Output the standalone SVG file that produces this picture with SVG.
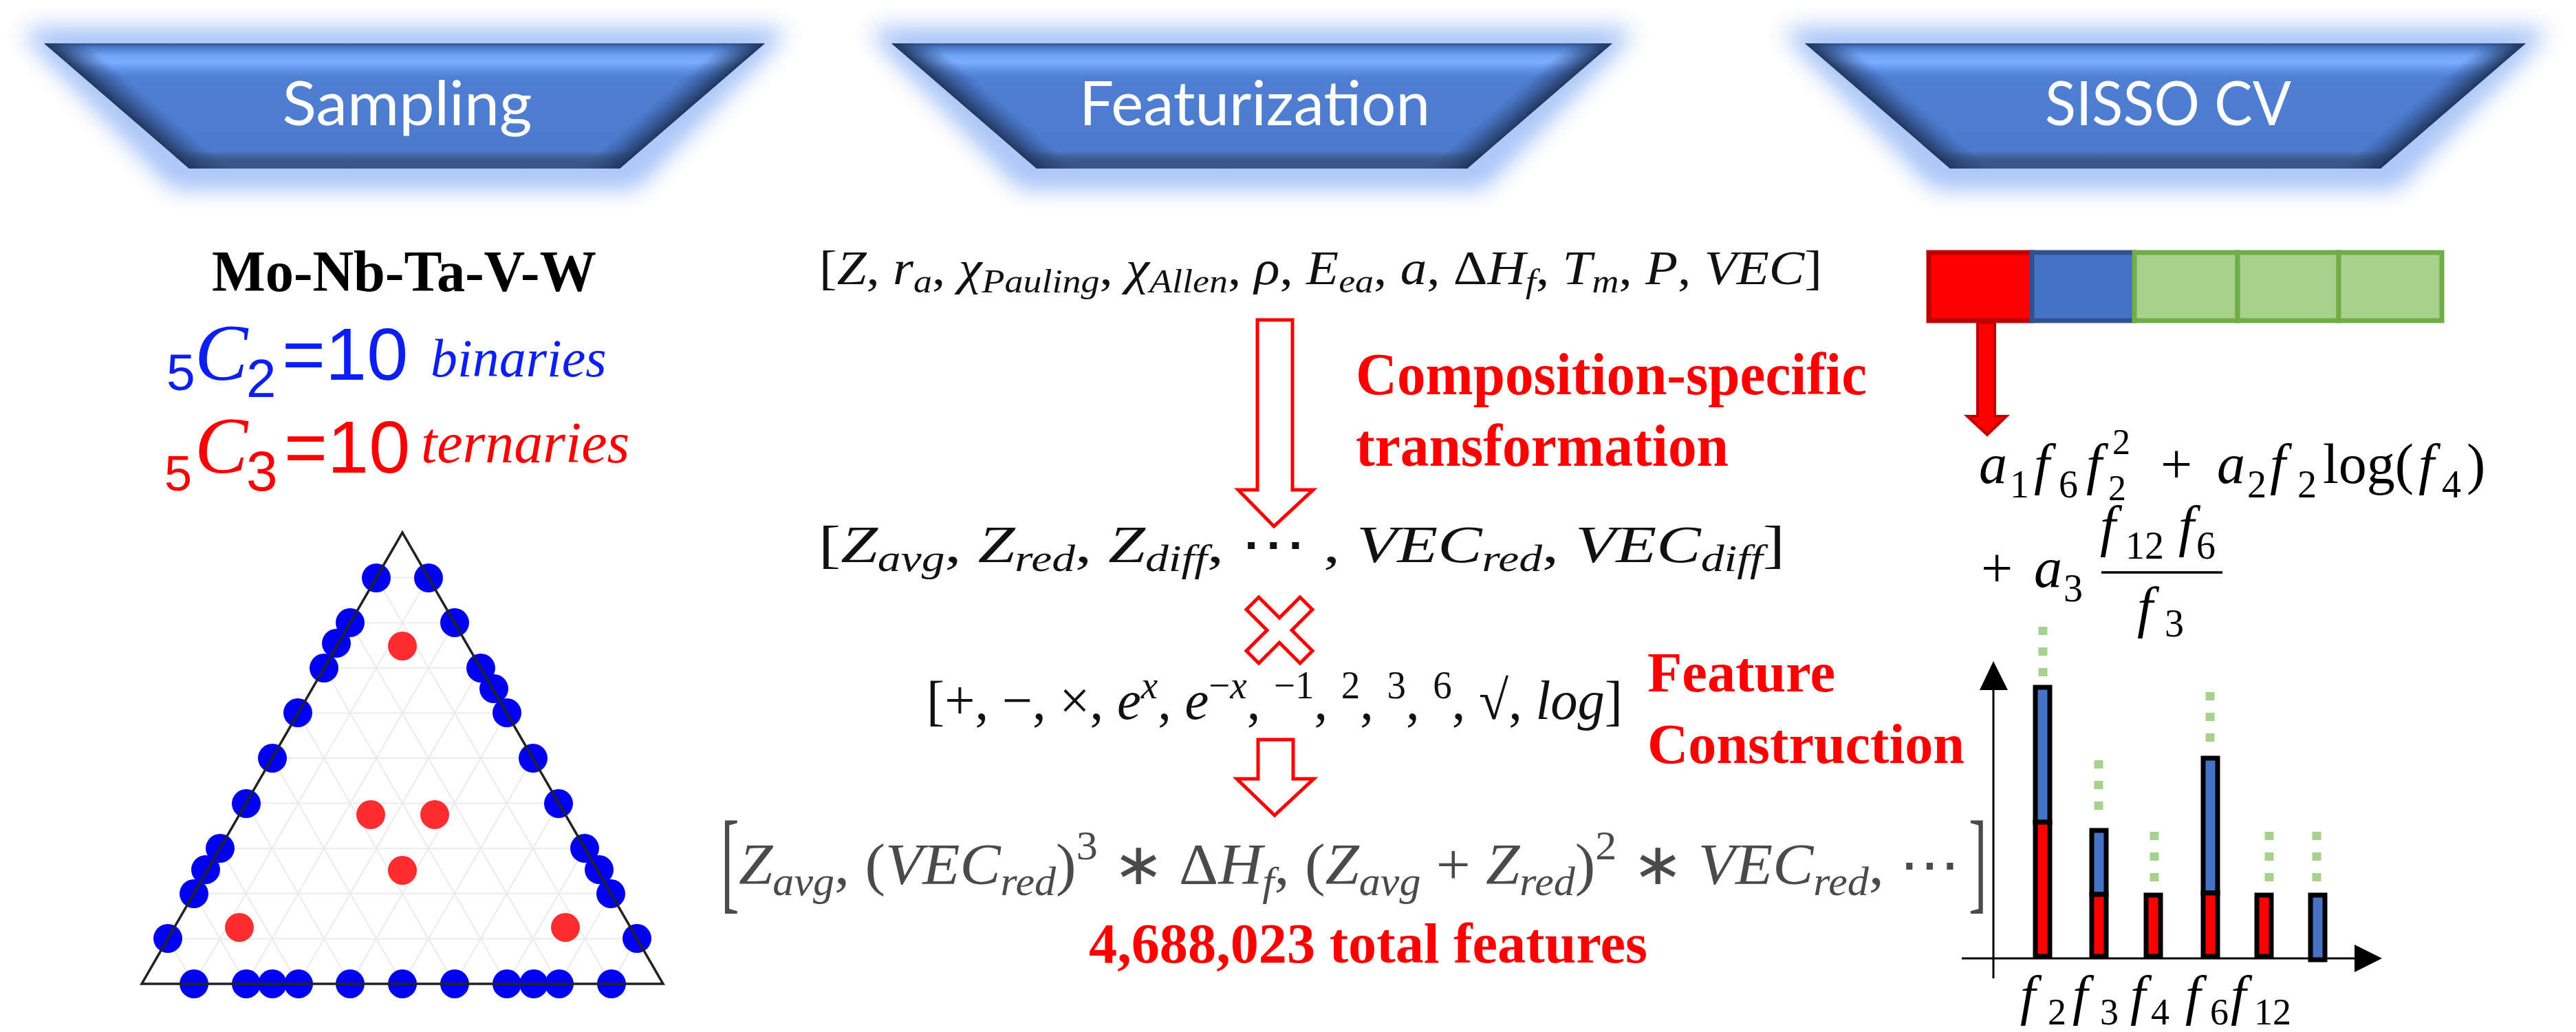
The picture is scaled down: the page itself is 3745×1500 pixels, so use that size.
<svg xmlns="http://www.w3.org/2000/svg" width="3745" height="1500" viewBox="0 0 3745 1500">
<style>
.m{font-family:"Liberation Serif",serif;fill:#111}
.i{font-style:italic}
.sb{font-size:0.7em;font-style:italic}
.sp{font-size:0.7em}
.hd{font-family:Lato,"Open Sans",sans-serif;fill:#fff;font-size:90px;text-anchor:middle}
.rl{font-family:"Liberation Serif",serif;font-weight:bold;fill:#ff0000}
.grid line{stroke:#ebebeb;stroke-width:2}
.bd{fill:#0000f0}
.rd{fill:#ff2d2d}
.cm{font-family:"Liberation Serif",serif;fill:#000}
.gd{stroke:#a9d18e;stroke-width:13;stroke-dasharray:12 18}
.bar{stroke:#000;stroke-width:7}
.ho{fill:#fff;stroke:#ff0000;stroke-width:5;stroke-linejoin:miter}
.ss{font-family:"Liberation Sans",sans-serif}
.sr{font-family:"Liberation Serif",serif;font-style:italic}
</style>
<defs>
<filter id="glow" x="-20%" y="-40%" width="140%" height="180%"><feGaussianBlur stdDeviation="17"/></filter>
<linearGradient id="tg" x1="0" y1="0" x2="0" y2="1">
<stop offset="0" stop-color="#34548a"/>
<stop offset="0.03" stop-color="#4a78c6"/>
<stop offset="0.1" stop-color="#72a5f7"/>
<stop offset="0.15" stop-color="#7cadfe"/>
<stop offset="0.21" stop-color="#5f92e6"/>
<stop offset="0.27" stop-color="#4f7fd3"/>
<stop offset="0.86" stop-color="#4c7bcd"/>
<stop offset="0.9" stop-color="#41649f"/>
<stop offset="0.94" stop-color="#3a5789"/>
<stop offset="1" stop-color="#3a5585"/>
</linearGradient>
<linearGradient id="bl" gradientUnits="userSpaceOnUse" x1="-418" y1="91" x2="-392" y2="61">
<stop offset="0" stop-color="#1f3358" stop-opacity="0.95"/>
<stop offset="1" stop-color="#2d4a80" stop-opacity="0"/>
</linearGradient>
<linearGradient id="br" gradientUnits="userSpaceOnUse" x1="418" y1="91" x2="392" y2="61">
<stop offset="0" stop-color="#1f3358" stop-opacity="0.95"/>
<stop offset="1" stop-color="#2d4a80" stop-opacity="0"/>
</linearGradient>
<g id="trap">
<polygon points="-556,-20 556,-20 336,210 -336,210" fill="#a3c1f6" filter="url(#glow)"/>
<polygon points="-545,-10 545,-10 326,198 -326,198" fill="#b3ccf8" filter="url(#glow)" opacity="0.7"/>
<polygon points="-524,0 524,0 313,182 -313,182" fill="url(#tg)"/>
<polygon points="-524,0 524,0 313,182 -313,182" fill="url(#bl)"/>
<polygon points="-524,0 524,0 313,182 -313,182" fill="url(#br)"/>
</g>
</defs>
<rect width="3745" height="1500" fill="#fff"/>

<g id="node-sampling">
<use href="#trap" transform="translate(588,63)"/>
<text class="hd" x="592" y="182" textLength="363" lengthAdjust="spacingAndGlyphs">Sampling</text>
</g>
<g id="node-featurization">
<use href="#trap" transform="translate(1820,63)"/>
<text class="hd" x="1824" y="182" textLength="510" lengthAdjust="spacingAndGlyphs">Featurization</text>
</g>
<g id="node-sisso">
<use href="#trap" transform="translate(3148,63)"/>
<text class="hd" x="3152" y="182" textLength="358" lengthAdjust="spacingAndGlyphs">SISSO CV</text>
</g>

<g id="node-system">
<text x="308" y="423" font-family="'Liberation Serif',serif" font-weight="bold" font-size="85" fill="#000" textLength="559" lengthAdjust="spacingAndGlyphs">Mo-Nb-Ta-V-W</text>
<text fill="#0a1ef5"><tspan class="ss" x="242" y="567" font-size="75">5</tspan><tspan class="sr" x="283" y="552" font-size="116">C</tspan><tspan class="ss" x="358" y="577" font-size="78">2</tspan><tspan class="ss" x="410" y="552" font-size="108">=10</tspan><tspan class="sr" x="626" y="547" font-size="78">binaries</tspan></text>
<text fill="#ff0000"><tspan class="ss" x="239" y="713" font-size="72">5</tspan><tspan class="sr" x="283" y="687" font-size="116">C</tspan><tspan class="ss" x="358" y="713" font-size="82">3</tspan><tspan class="ss" x="413" y="687" font-size="108">=10</tspan><tspan class="sr" x="612" y="672" font-size="84">ternaries</tspan></text>
</g>

<g id="node-ternary">
<g class="grid">
<line x1="547.1" y1="839.6" x2="622.9" y2="839.6"/><line x1="509.2" y1="905.2" x2="660.8" y2="905.2"/><line x1="471.3" y1="970.8" x2="698.7" y2="970.8"/><line x1="433.4" y1="1036.4" x2="736.6" y2="1036.4"/><line x1="395.5" y1="1102" x2="774.5" y2="1102"/><line x1="357.6" y1="1167.6" x2="812.4" y2="1167.6"/><line x1="319.7" y1="1233.2" x2="850.3" y2="1233.2"/><line x1="281.8" y1="1298.8" x2="888.2" y2="1298.8"/><line x1="243.9" y1="1364.4" x2="926.1" y2="1364.4"/>
<line x1="281.8" y1="1430" x2="622.9" y2="839.6"/><line x1="357.6" y1="1430" x2="660.8" y2="905.2"/><line x1="433.4" y1="1430" x2="698.7" y2="970.8"/><line x1="509.2" y1="1430" x2="736.6" y2="1036.4"/><line x1="585" y1="1430" x2="774.5" y2="1102"/><line x1="660.8" y1="1430" x2="812.4" y2="1167.6"/><line x1="736.6" y1="1430" x2="850.3" y2="1233.2"/><line x1="812.4" y1="1430" x2="888.2" y2="1298.8"/><line x1="888.2" y1="1430" x2="926.1" y2="1364.4"/>
<line x1="281.8" y1="1430" x2="243.9" y2="1364.4"/><line x1="357.6" y1="1430" x2="281.8" y2="1298.8"/><line x1="433.4" y1="1430" x2="319.7" y2="1233.2"/><line x1="509.2" y1="1430" x2="357.6" y2="1167.6"/><line x1="585" y1="1430" x2="395.5" y2="1102"/><line x1="660.8" y1="1430" x2="433.4" y2="1036.4"/><line x1="736.6" y1="1430" x2="471.3" y2="970.8"/><line x1="812.4" y1="1430" x2="509.2" y2="905.2"/><line x1="888.2" y1="1430" x2="547.1" y2="839.6"/>
</g>
<g class="bd">
<circle cx="547" cy="840" r="21"/><circle cx="509" cy="905" r="21"/><circle cx="489" cy="935" r="21"/><circle cx="471" cy="971" r="21"/><circle cx="433" cy="1036" r="21"/><circle cx="396" cy="1102" r="21"/><circle cx="358" cy="1168" r="21"/><circle cx="320" cy="1233" r="21"/><circle cx="299" cy="1264" r="21"/><circle cx="282" cy="1299" r="21"/><circle cx="244" cy="1364" r="21"/>
<circle cx="623" cy="840" r="21"/><circle cx="661" cy="905" r="21"/><circle cx="699" cy="971" r="21"/><circle cx="718" cy="1001" r="21"/><circle cx="737" cy="1036" r="21"/><circle cx="775" cy="1102" r="21"/><circle cx="812" cy="1168" r="21"/><circle cx="850" cy="1233" r="21"/><circle cx="871" cy="1264" r="21"/><circle cx="888" cy="1299" r="21"/><circle cx="926" cy="1364" r="21"/>
<circle cx="282" cy="1430" r="21"/><circle cx="358" cy="1430" r="21"/><circle cx="396" cy="1430" r="21"/><circle cx="434" cy="1430" r="21"/><circle cx="509" cy="1430" r="21"/><circle cx="585" cy="1430" r="21"/><circle cx="661" cy="1430" r="21"/><circle cx="737" cy="1430" r="21"/><circle cx="776" cy="1430" r="21"/><circle cx="813" cy="1430" r="21"/><circle cx="889" cy="1430" r="21"/>
</g>
<g class="rd">
<circle cx="585" cy="939" r="21"/><circle cx="539" cy="1184" r="21"/><circle cx="632" cy="1184" r="21"/><circle cx="585" cy="1265" r="21"/><circle cx="348" cy="1348" r="21"/><circle cx="822" cy="1348" r="21"/>
</g>
<polygon points="585,774 206,1430 964,1430" fill="none" stroke="#222" stroke-width="3.5"/>
</g>

<g id="node-eq-raw">
<text class="m" x="1191" y="413" font-size="70" textLength="1458" lengthAdjust="spacingAndGlyphs">[<tspan class="i">Z</tspan>, <tspan class="i">r</tspan><tspan class="sb" dy="12">a</tspan><tspan dy="-12">, </tspan><tspan class="i">χ</tspan><tspan class="sb" dy="12">Pauling</tspan><tspan dy="-12">, </tspan><tspan class="i">χ</tspan><tspan class="sb" dy="12">Allen</tspan><tspan dy="-12">, </tspan><tspan class="i">ρ</tspan>, <tspan class="i">E</tspan><tspan class="sb" dy="12">ea</tspan><tspan dy="-12">, </tspan><tspan class="i">a</tspan>, Δ<tspan class="i">H</tspan><tspan class="sb" dy="12">f</tspan><tspan dy="-12">, </tspan><tspan class="i">T</tspan><tspan class="sb" dy="12">m</tspan><tspan dy="-12">, </tspan><tspan class="i">P</tspan>, <tspan class="i">VEC</tspan>]</text>
</g>

<g id="node-transform-label">
<text class="rl" x="1971" y="573" font-size="86" textLength="743" lengthAdjust="spacingAndGlyphs">Composition-specific</text>
<text class="rl" x="1971" y="677" font-size="86" textLength="542" lengthAdjust="spacingAndGlyphs">transformation</text>
</g>

<g id="node-eq-transformed">
<text class="m" x="1190" y="817" font-size="77" textLength="1405" lengthAdjust="spacingAndGlyphs">[<tspan class="i">Z</tspan><tspan class="sb" dy="13">avg</tspan><tspan dy="-13">, </tspan><tspan class="i">Z</tspan><tspan class="sb" dy="13">red</tspan><tspan dy="-13">, </tspan><tspan class="i">Z</tspan><tspan class="sb" dy="13">diff</tspan><tspan dy="-13">, ⋯ , </tspan><tspan class="i">VEC</tspan><tspan class="sb" dy="13">red</tspan><tspan dy="-13">, </tspan><tspan class="i">VEC</tspan><tspan class="sb" dy="13">diff</tspan><tspan dy="-13">]</tspan></text>
</g>

<g id="node-cross">
<polygon class="ho" points="1812,886 1830,868 1860,898 1890,868 1908,886 1878,916 1908,946 1890,964 1860,934 1830,964 1812,946 1842,916"/>
</g>

<g id="node-operators">
<text class="m" x="1347" y="1045" font-size="80" textLength="1012" lengthAdjust="spacingAndGlyphs">[+, −, ×, <tspan class="i">e</tspan><tspan class="sb" dy="-30">x</tspan><tspan dy="30">, </tspan><tspan class="i">e</tspan><tspan class="sp" dy="-30">−<tspan class="i">x</tspan></tspan><tspan dy="30">, </tspan><tspan class="sp" dy="-30">−1</tspan><tspan dy="30">, </tspan><tspan class="sp" dy="-30">2</tspan><tspan dy="30">, </tspan><tspan class="sp" dy="-30">3</tspan><tspan dy="30">, </tspan><tspan class="sp" dy="-30">6</tspan><tspan dy="30">, √, </tspan><tspan class="i">log</tspan>]</text>
</g>

<g id="node-construction-label">
<text class="rl" x="2395" y="1005" font-size="82" textLength="273" lengthAdjust="spacingAndGlyphs">Feature</text>
<text class="rl" x="2395" y="1109" font-size="82" textLength="461" lengthAdjust="spacingAndGlyphs">Construction</text>
</g>

<g id="node-eq-features">
<text class="m" style="fill:#4a4a4a" transform="translate(1048,1306) scale(1,2.05)" font-size="80">[</text>
<text class="m" style="fill:#4a4a4a" transform="translate(2862,1306) scale(1,2.05)" font-size="80">]</text>
<text class="m" x="1074" y="1285" font-size="84" textLength="1776" lengthAdjust="spacingAndGlyphs" style="fill:#4a4a4a"><tspan class="i">Z</tspan><tspan class="sb" dy="16">avg</tspan><tspan dy="-16">, (</tspan><tspan class="i">VEC</tspan><tspan class="sb" dy="16">red</tspan><tspan dy="-16">)</tspan><tspan class="sp" dy="-36">3</tspan><tspan dy="36"> ∗ Δ</tspan><tspan class="i">H</tspan><tspan class="sb" dy="16">f</tspan><tspan dy="-16">, (</tspan><tspan class="i">Z</tspan><tspan class="sb" dy="16">avg</tspan><tspan dy="-16"> + </tspan><tspan class="i">Z</tspan><tspan class="sb" dy="16">red</tspan><tspan dy="-16">)</tspan><tspan class="sp" dy="-36">2</tspan><tspan dy="36"> ∗ </tspan><tspan class="i">VEC</tspan><tspan class="sb" dy="16">red</tspan><tspan dy="-16">, ⋯</tspan></text>
<text class="rl" x="1583" y="1399" font-size="82" textLength="812" lengthAdjust="spacingAndGlyphs">4,688,023 total features</text>
</g>

<g id="node-cv-bar">
<rect x="2804" y="367" width="150" height="99" fill="#ff0000" stroke="#c00000" stroke-width="7"/>
<rect x="2954" y="367" width="149" height="99" fill="#4472c4" stroke="#2f528f" stroke-width="7"/>
<rect x="3103" y="367" width="150" height="99" fill="#a9d18e" stroke="#70ad47" stroke-width="7"/>
<rect x="3253" y="367" width="147" height="99" fill="#a9d18e" stroke="#70ad47" stroke-width="7"/>
<rect x="3400" y="367" width="150" height="99" fill="#a9d18e" stroke="#70ad47" stroke-width="7"/>
</g>

<g id="node-model" class="cm">
<text font-size="82"><tspan class="i" x="2877" y="702">a</tspan><tspan x="2922" y="723" font-size="56">1</tspan><tspan class="i" x="2957" y="702">f</tspan><tspan x="2993" y="723" font-size="56">6</tspan><tspan class="i" x="3033" y="702">f</tspan><tspan x="3065" y="727" font-size="52">2</tspan><tspan x="3141" y="702">+</tspan><tspan class="i" x="3223" y="702">a</tspan><tspan x="3267" y="723" font-size="56">2</tspan><tspan class="i" x="3300" y="702">f</tspan><tspan x="3340" y="723" font-size="56">2</tspan><tspan x="3377" y="702">log(</tspan><tspan class="i" x="3516" y="702">f</tspan><tspan x="3550" y="723" font-size="56">4</tspan><tspan x="3586" y="702">)</tspan></text>
<text x="3071" y="660" font-size="52">2</text>
<text font-size="82"><tspan x="2880" y="853">+</tspan><tspan class="i" x="2957" y="853">a</tspan><tspan x="3000" y="874" font-size="56">3</tspan><tspan class="i" x="3053" y="792">f</tspan><tspan x="3090" y="812" font-size="56">12</tspan><tspan class="i" x="3167" y="792">f</tspan><tspan x="3193" y="812" font-size="56">6</tspan><tspan class="i" x="3107" y="910">f</tspan><tspan x="3147" y="925" font-size="56">3</tspan></text>
<line x1="3055" y1="832" x2="3231" y2="832" stroke="#000" stroke-width="3.5"/>
</g>

<g id="node-chart">
<line x1="2898" y1="1000" x2="2898" y2="1422" stroke="#000" stroke-width="3"/>
<polygon points="2898,961 2878,1003 2919,1003" fill="#000"/>
<line x1="2852" y1="1393" x2="3425" y2="1393" stroke="#000" stroke-width="3"/>
<polygon points="3463,1393 3423,1373 3423,1413" fill="#000"/>
<line class="gd" x1="2970" y1="911" x2="2970" y2="984"/>
<line class="gd" x1="3051" y1="1105" x2="3051" y2="1178"/>
<line class="gd" x1="3132" y1="1209" x2="3132" y2="1282"/>
<line class="gd" x1="3213" y1="1006" x2="3213" y2="1079"/>
<line class="gd" x1="3299" y1="1209" x2="3299" y2="1282"/>
<line class="gd" x1="3368" y1="1209" x2="3368" y2="1282"/>
<rect class="bar" x="2959" y="999" width="21" height="196" fill="#4472c4"/>
<rect class="bar" x="2959" y="1195" width="21" height="195" fill="#ff0000"/>
<rect class="bar" x="3041" y="1207" width="21" height="93" fill="#4472c4"/>
<rect class="bar" x="3041" y="1300" width="21" height="90" fill="#ff0000"/>
<rect class="bar" x="3120" y="1301" width="21" height="89" fill="#ff0000"/>
<rect class="bar" x="3203" y="1102" width="21" height="196" fill="#4472c4"/>
<rect class="bar" x="3203" y="1298" width="21" height="92" fill="#ff0000"/>
<rect class="bar" x="3281" y="1301" width="21" height="89" fill="#ff0000"/>
<rect class="bar" x="3359" y="1301" width="21" height="94" fill="#4472c4"/>
<text class="cm" font-size="80"><tspan class="i" x="2937" y="1474">f</tspan><tspan x="2977" y="1489" font-size="54">2</tspan><tspan class="i" x="3013" y="1474">f</tspan><tspan x="3053" y="1489" font-size="54">3</tspan><tspan class="i" x="3097" y="1474">f</tspan><tspan x="3127" y="1489" font-size="54">4</tspan><tspan class="i" x="3177" y="1474">f</tspan><tspan x="3213" y="1489" font-size="54">6</tspan><tspan class="i" x="3243" y="1474">f</tspan><tspan x="3277" y="1489" font-size="54">12</tspan></text>
</g>

<g id="connectors">
<polygon class="ho" points="1828,465 1879,465 1879,712 1909,712 1852,765 1800,712 1828,712"/>
<polygon class="ho" points="1829,1075 1880,1075 1880,1132 1910,1132 1853,1185 1798,1132 1829,1132"/>
<polygon points="2875,469 2900,469 2900,605 2917,605 2889,632 2860,605 2875,605" fill="#ff0000" stroke="#c00000" stroke-width="4"/>
</g>
</svg>
